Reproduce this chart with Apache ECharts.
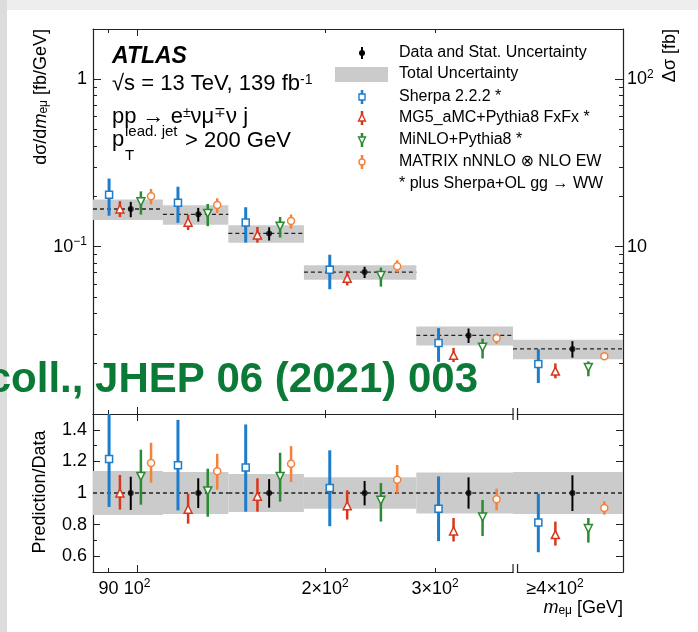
<!DOCTYPE html>
<html lang="en">
<head>
<meta charset="UTF-8">
<title>WW+jet m_emu</title>
<script src="https://cdn.jsdelivr.net/npm/echarts@6/dist/echarts.min.js"></script>
<style>
  html, body {margin: 0; padding: 0; background: #fff;}
  #main {width: 698px; height: 632px;}
</style>
</head>
<body>
<div id="main"></div>
<script>
// m_emu bins [GeV]; the last one is the overflow bin (>= 400) shown after the axis break
var binLo = [85, 110, 140, 185, 280, 400];
var binHi = [110, 140, 185, 280, 400, 600];

// measured d(sigma)/d(m) [fb/GeV]
var dataVal = [0.168, 0.156, 0.120, 0.0705, 0.0295, 0.0245];
// stat. error of data, as ratio to data
var dataStatLo = [0.893, 0.905, 0.907, 0.922, 0.901, 0.886];
var dataStatHi = [1.103, 1.093, 1.088, 1.076, 1.099, 1.112];
// total uncertainty (relative)
var totalUnc = [0.14, 0.133, 0.12, 0.10, 0.13, 0.133];

// prediction / data with error bars
var sherpaRatio = [1.215, 1.175, 1.162, 1.032, 0.901, 0.813];
var sherpaLo    = [0.912, 0.890, 0.882, 0.790, 0.695, 0.625];
var sherpaHi    = [1.520, 1.463, 1.434, 1.270, 1.105, 0.996];

var mg5Ratio = [1.000, 0.897, 0.980, 0.920, 0.760, 0.737];
var mg5Lo    = [0.895, 0.806, 0.882, 0.832, 0.693, 0.667];
var mg5Hi    = [1.114, 0.996, 1.093, 1.017, 0.842, 0.819];

var minloRatio = [1.105, 1.013, 1.105, 0.954, 0.848, 0.775];
var minloLo    = [0.926, 0.850, 0.945, 0.819, 0.728, 0.686];
var minloHi    = [1.274, 1.154, 1.255, 1.063, 0.956, 0.842];

var matrixRatio = [1.190, 1.137, 1.185, 1.084, 0.960, 0.905];
var matrixLo    = [1.065, 1.021, 1.069, 0.996, 0.890, 0.863];
var matrixHi    = [1.318, 1.248, 1.297, 1.177, 1.027, 0.947];

// axis labels
var xTickValues = [90, 100, 200, 300, 467];
var xTickLabels = ['90', '10{sup|2}', '2×10{sup|2}', '3×10{sup|2}', '≥4×10{sup|2}'];
var yTopValues = [0.1, 1];
var yTopLabels = ['10{sup|−1}', '1'];
var yRightValues = [10, 100];
var yRightLabels = ['10', '10{sup|2}'];
var yRatioValues = [0.6, 0.8, 1, 1.2, 1.4];
var yRatioLabels = ['0.6', '0.8', '1', '1.2', '1.4'];

var FONT = '"Liberation Sans", Arial, "DejaVu Sans", sans-serif';
var AX = '#222';

// horizontal placement of the five entries inside each bin (fraction of log bin width)
var dodge = [0.23, 0.385, 0.54, 0.685, 0.83];
function xPos(i, k) {
    var a = Math.log10(binLo[i]), b = Math.log10(binHi[i]);
    return Math.pow(10, a + dodge[k] * (b - a));
}

var models = [
    {name: 'Sherpa 2.2.2 *', color: '#1b7dcc', symbol: 'rect', rot: 0, size: 7, lw: 3, slot: 0, r: sherpaRatio, lo: sherpaLo, hi: sherpaHi},
    {name: 'MG5_aMC+Pythia8 FxFx *', color: '#d8371d', symbol: 'triangle', rot: 0, size: 8, lw: 2.5, slot: 1, r: mg5Ratio, lo: mg5Lo, hi: mg5Hi},
    {name: 'MiNLO+Pythia8 *', color: '#2a8b30', symbol: 'triangle', rot: 180, size: 8, lw: 2.5, slot: 3, r: minloRatio, lo: minloLo, hi: minloHi},
    {name: 'MATRIX nNNLO ⊗ NLO EW', color: '#f5823a', symbol: 'circle', rot: 0, size: 7, lw: 2.5, slot: 4, r: matrixRatio, lo: matrixLo, hi: matrixHi}
];

function pick(vals, labels) {
    return function (v) {
        for (var i = 0; i < vals.length; i++) {
            if (Math.abs(v - vals[i]) <= 1e-6 * Math.abs(vals[i])) return labels[i];
        }
        return '';
    };
}

var rich = {sup: {fontSize: 12, lineHeight: 12, verticalAlign: 'top', fontFamily: FONT, color: '#000'}};

function mkLabel(vals, labels, margin) {
    return {
        show: true, customValues: vals, formatter: pick(vals, labels),
        fontSize: 18, lineHeight: 22, color: '#000', fontFamily: FONT, margin: margin, rich: rich
    };
}

function xAx(grid, pos, ticks, len, line, label) {
    return {
        type: 'log', logBase: 10, gridIndex: grid, position: pos, min: 85, max: 600,
        axisLine: {show: line, onZero: false, lineStyle: {color: AX, width: 1.2}},
        axisTick: {show: true, inside: true, length: len, customValues: ticks, lineStyle: {color: AX, width: 1}},
        axisLabel: label || {show: false},
        splitLine: {show: false}
    };
}

function yAx(grid, pos, type, min, max, ticks, len, line, label) {
    var a = {
        type: type, gridIndex: grid, position: pos, min: min, max: max,
        axisLine: {show: line, onZero: false, lineStyle: {color: AX, width: 1.2}},
        axisTick: {show: true, inside: true, length: len, customValues: ticks, lineStyle: {color: AX, width: 1}},
        axisLabel: label || {show: false},
        splitLine: {show: false}
    };
    if (type === 'log') a.logBase = 10;
    return a;
}

// minor tick positions for log axes
function logMinor(decades, max) {
    var out = [];
    decades.forEach(function (d) {
        for (var k = 2; k <= 9; k++) if (k * d <= max) out.push(+(k * d).toPrecision(6));
    });
    return out;
}

var xMajor = [100], xMinor = [90, 200, 300];

var xAxes = [
    xAx(0, 'bottom', xMajor, 7, true), xAx(0, 'bottom', xMinor, 4, false),
    xAx(0, 'top', xMajor, 7, true), xAx(0, 'top', xMinor, 4, false),
    xAx(1, 'bottom', xMajor, 7, true, mkLabel(xTickValues, xTickLabels, 6)), xAx(1, 'bottom', xMinor, 4, false),
    xAx(1, 'top', xMajor, 7, true), xAx(1, 'top', xMinor, 4, false)
];

var yAxes = [
    yAx(0, 'left', 'log', 0.01, 2, [0.01, 0.1, 1], 8, true, mkLabel(yTopValues, yTopLabels, 6)),
    yAx(0, 'left', 'log', 0.01, 2, logMinor([0.01, 0.1, 1], 2), 4, false),
    yAx(0, 'right', 'log', 1, 200, [10, 100], 8, true, mkLabel(yRightValues, yRightLabels, 4)),
    yAx(0, 'right', 'log', 1, 200, logMinor([1, 10, 100], 200), 4, false),
    yAx(1, 'left', 'value', 0.5, 1.5, [0.6, 0.8, 1, 1.2, 1.4], 7, true, mkLabel(yRatioValues, yRatioLabels, 6)),
    yAx(1, 'left', 'value', 0.5, 1.5, [0.7, 0.9, 1.1, 1.3], 4, false),
    yAx(1, 'right', 'value', 0.5, 1.5, [0.6, 0.8, 1, 1.2, 1.4], 7, true),
    yAx(1, 'right', 'value', 0.5, 1.5, [0.7, 0.9, 1.1, 1.3], 4, false)
];

function bandItem(params, api) {
    var a = api.coord([api.value(0), api.value(3)]);
    var b = api.coord([api.value(1), api.value(2)]);
    return {type: 'rect', shape: {x: a[0], y: a[1], width: b[0] - a[0], height: b[1] - a[1]},
        style: {fill: '#cbcbcb'}};
}

function dashItem(params, api) {
    var a = api.coord([api.value(0), api.value(2)]);
    var b = api.coord([api.value(1), api.value(2)]);
    return {type: 'line', shape: {x1: a[0], y1: a[1], x2: b[0], y2: b[1]},
        style: {stroke: '#222', lineWidth: 1.3, lineDash: [4, 3]}};
}

function barItem(width, color) {
    return function (params, api) {
        var p1 = api.coord([api.value(0), api.value(1)]);
        var p2 = api.coord([api.value(0), api.value(2)]);
        var cs = params.coordSys;
        var top = Math.max(cs.y, Math.min(p1[1], p2[1]));
        var bot = Math.min(cs.y + cs.height, Math.max(p1[1], p2[1]));
        return {type: 'line', shape: {x1: p1[0], y1: top, x2: p1[0], y2: bot},
            style: {stroke: color, lineWidth: width}};
    };
}

var series = [];

// panel: 0 = cross section, 1 = ratio
[0, 1].forEach(function (panel) {
    var xi = panel === 0 ? 0 : 4, yi = panel === 0 ? 0 : 4;
    var scale = function (i) { return panel === 0 ? dataVal[i] : 1; };

    series.push({
        type: 'custom', xAxisIndex: xi, yAxisIndex: yi, z: 1, renderItem: bandItem,
        encode: {x: [0, 1], y: [2, 3]},
        data: binLo.map(function (lo, i) {
            return [lo, binHi[i], scale(i) * (1 - totalUnc[i]), scale(i) * (1 + totalUnc[i])];
        })
    });
    series.push({
        type: 'custom', xAxisIndex: xi, yAxisIndex: yi, z: 2, renderItem: dashItem,
        encode: {x: [0, 1], y: 2},
        data: binLo.map(function (lo, i) { return [lo, binHi[i], scale(i)]; })
    });

    models.forEach(function (m) {
        series.push({
            type: 'custom', xAxisIndex: xi, yAxisIndex: yi, z: 3, renderItem: barItem(m.lw, m.color),
            encode: {x: 0, y: [1, 2]},
            data: binLo.map(function (lo, i) { return [xPos(i, m.slot), scale(i) * m.lo[i], scale(i) * m.hi[i]]; })
        });
        series.push({
            type: 'scatter', name: m.name, xAxisIndex: xi, yAxisIndex: yi, z: 4,
            symbol: m.symbol, symbolSize: m.size, symbolRotate: m.rot,
            itemStyle: {color: '#fff', borderColor: m.color, borderWidth: 1.5, opacity: 1},
            data: binLo.map(function (lo, i) { return [xPos(i, m.slot), scale(i) * m.r[i]]; })
        });
    });

    series.push({
        type: 'custom', xAxisIndex: xi, yAxisIndex: yi, z: 3, renderItem: barItem(2, '#000'),
        encode: {x: 0, y: [1, 2]},
        data: binLo.map(function (lo, i) { return [xPos(i, 2), scale(i) * dataStatLo[i], scale(i) * dataStatHi[i]]; })
    });
    series.push({
        type: 'scatter', name: 'Data', xAxisIndex: xi, yAxisIndex: yi, z: 4,
        symbol: 'circle', symbolSize: 6, itemStyle: {color: '#000'},
        data: binLo.map(function (lo, i) { return [xPos(i, 2), scale(i)]; })
    });
});

var chart = echarts.init(document.getElementById('main'));
chart.setOption({
    animation: false,
    backgroundColor: '#fff',
    textStyle: {fontFamily: FONT},
    grid: [
        {left: 93, top: 29, width: 530, height: 385},
        {left: 93, top: 414, width: 530, height: 158}
    ],
    xAxis: xAxes,
    yAxis: yAxes,
    series: series
});

// decorations: titles, legend, axis break, watermark
function txt(x, y, text, size, opt) {
    opt = opt || {};
    return {
        type: 'text', x: x, y: y, rotation: opt.rot || 0, z: opt.z || 20,
        style: {
            text: text, fill: opt.color || '#000', fontSize: size, fontFamily: FONT,
            fontWeight: opt.weight || 'normal', fontStyle: opt.style || 'normal',
            align: opt.align || 'left', textAlign: opt.align || 'left',
            verticalAlign: 'middle', textVerticalAlign: 'middle',
            rich: opt.rich
        }
    };
}

var sub = function (s) { return {fontSize: s, lineHeight: s, verticalAlign: 'bottom', fontFamily: FONT, fill: '#000'}; };
var sup = function (s) { return {fontSize: s, lineHeight: s, verticalAlign: 'top', fontFamily: FONT, fill: '#000'}; };
var ital = function (s) { return {fontSize: s, fontStyle: 'italic', fontFamily: FONT, fill: '#000'}; };
var norm = function (s) { return {fontSize: s, fontFamily: FONT, fill: '#000'}; };

var g = [];
g.push({type: 'rect', shape: {x: 0, y: 0, width: 698, height: 10}, style: {fill: '#eeeeee'}, z: 0});
g.push({type: 'rect', shape: {x: 0, y: 0, width: 7, height: 632}, style: {fill: '#dcdcdc'}, z: 0});

// axis titles
g.push(txt(41, 29, '{n|dσ/d}{i|m}{s|eμ}{n| [fb/GeV]}', 18, {rot: Math.PI / 2, align: 'right',
    rich: {n: norm(18), i: ital(18), s: sub(12)}}));
g.push(txt(670, 29, 'Δσ [fb]', 18, {rot: Math.PI / 2, align: 'right'}));
g.push(txt(40, 492, 'Prediction/Data', 18, {rot: Math.PI / 2, align: 'center'}));
g.push(txt(623, 608, '{i|m}{s|eμ}{n| [GeV]}', 18, {align: 'right',
    rich: {n: norm(18), i: ital(18), s: sub(12)}}));

// labels in the upper-left corner
g.push(txt(112, 57, 'ATLAS', 23, {weight: 'bold', style: 'italic'}));
g.push(txt(112, 84, '{n|√s = 13 TeV, 139 fb}{p|-1}', 22, {rich: {n: norm(22), p: sup(14)}}));
g.push(txt(112, 117, '{n|pp → e}{p|±}{n|νμ}{p|∓}{n|ν j}', 22, {rich: {n: norm(22), p: sup(14)}}));
g.push(txt(112, 140, 'p', 22));
g.push(txt(125, 132, 'lead. jet', 15));
g.push(txt(125, 156, 'T', 15));
g.push(txt(185, 141, '> 200 GeV', 22));

// legend
var lx = 362, ltx = 399;
var rows = [53, 74, 97, 118, 140, 162, 184];
g.push({type: 'line', shape: {x1: lx, y1: rows[0] - 6, x2: lx, y2: rows[0] + 6}, style: {stroke: '#000', lineWidth: 2}, z: 20});
g.push({type: 'circle', shape: {cx: lx, cy: rows[0], r: 3}, style: {fill: '#000'}, z: 21});
g.push(txt(ltx, rows[0], 'Data and Stat. Uncertainty', 16));
g.push({type: 'rect', shape: {x: 335, y: rows[1] - 7, width: 53, height: 15}, style: {fill: '#cbcbcb'}, z: 20});
g.push(txt(ltx, rows[1], 'Total Uncertainty', 16));
models.forEach(function (m, k) {
    var y = rows[2 + k];
    g.push({type: 'line', shape: {x1: lx, y1: y - 7, x2: lx, y2: y + 7}, style: {stroke: m.color, lineWidth: 2.5}, z: 20});
    var st = {fill: '#fff', stroke: m.color, lineWidth: 1.4};
    if (m.symbol === 'rect') {
        g.push({type: 'rect', shape: {x: lx - 3, y: y - 3, width: 6, height: 6}, style: st, z: 21});
    } else if (m.symbol === 'circle') {
        g.push({type: 'circle', shape: {cx: lx, cy: y, r: 3}, style: st, z: 21});
    } else if (m.rot === 0) {
        g.push({type: 'polygon', shape: {points: [[lx, y - 4], [lx + 3.5, y + 3], [lx - 3.5, y + 3]]}, style: st, z: 21});
    } else {
        g.push({type: 'polygon', shape: {points: [[lx, y + 4], [lx + 3.5, y - 3], [lx - 3.5, y - 3]]}, style: st, z: 21});
    }
    g.push(txt(ltx, y, m.name, 16));
});
g.push(txt(ltx, rows[6], '* plus Sherpa+OL gg → WW', 16));

// axis break marks at the start of the overflow bin
var xb = chart.convertToPixel({xAxisIndex: 0}, 400);
var xb2 = xb + 4.5;
[414, 572].forEach(function (yy) {
    g.push({type: 'rect', shape: {x: xb + 0.8, y: yy - 2, width: xb2 - xb - 1.6, height: 4}, style: {fill: '#fff'}, z: 30});
});
[xb, xb2].forEach(function (x) {
    g.push({type: 'line', shape: {x1: x, y1: 408, x2: x, y2: 420}, style: {stroke: AX, lineWidth: 1.2}, z: 31});
    g.push({type: 'line', shape: {x1: x, y1: 564, x2: x, y2: 572}, style: {stroke: AX, lineWidth: 1.2}, z: 31});
});

// journal reference overlay
g.push(txt(478, 380, 'coll., JHEP 06 (2021) 003', 42, {weight: 'bold', color: '#0b7a37', align: 'right', z: 40}));

chart.setOption({graphic: g});
</script>
</body>
</html>
